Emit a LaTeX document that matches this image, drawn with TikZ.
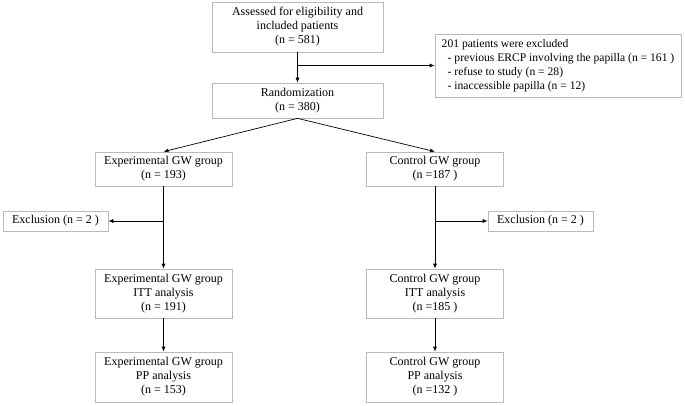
\documentclass[tikz,border=0pt]{standalone}
\usepackage{fontspec}
\setmainfont{Liberation Serif}
\usetikzlibrary{arrows.meta,
                calc,
                positioning}
\tikzset{
        base/.style={draw=gray!55, line width=0.7pt, align=center, inner sep=0pt,
                     font=\fontsize{12}{14}\selectfont},
        wide/.style={base, minimum width=171pt},
        grp/.style={base, minimum width=137pt},
        excl/.style={base, minimum width=105pt, minimum height=20pt},
        myarrow/.style={-{Latex[length=5pt, width=4pt]}, line width=0.7pt},
 }
\begin{document}
\begin{tikzpicture}[x=1pt, y=-1pt]
    \useasboundingbox (0,0) rectangle (685,406);

    \node[wide, minimum height=50pt] (assess) at (297.5,27)
         {Assessed for eligibility and\\ included patients\\ (n = 581)};
    \node[base, align=left, font=\fontsize{11.6}{14}\selectfont,
          minimum width=246pt, minimum height=63pt]
         (excluded) at (558,65.5)
         {201 patients were excluded\\
          \hspace*{6pt}- previous ERCP involving the papilla (n = 161 )\\
          \hspace*{6pt}- refuse to study (n = 28)\\
          \hspace*{6pt}- inaccessible papilla (n = 12)};
    \node[wide, minimum height=35pt] (rand) at (297.5,100.5)
         {Randomization\\ (n = 380)};

    \node[grp, minimum height=34pt] (expgrp) at (163.5,169)
         {Experimental GW group\\ (n = 193)};
    \node[grp, minimum height=34pt] (ctrlgrp) at (435,169)
         {Control GW group\\ (n =187 )};
    \node[excl] (exclL) at (55.5,221) {Exclusion (n = 2 )};
    \node[excl] (exclR) at (540.5,221) {Exclusion (n = 2 )};

    \node[grp, minimum height=49pt] (expitt) at (163.5,293.5)
         {Experimental GW group\\ ITT analysis\\ (n = 191)};
    \node[grp, minimum height=49pt] (ctrlitt) at (435,293.5)
         {Control GW group\\ ITT analysis\\ (n =185 )};
    \node[grp, minimum height=50pt] (exppp) at (163.5,377)
         {Experimental GW group\\ PP analysis\\ (n = 153)};
    \node[grp, minimum height=50pt] (ctrlpp) at (435,377)
         {Control GW group\\ PP analysis\\ (n =132 )};

    % arrows
    \draw[myarrow] (assess) -- (rand);
    \coordinate (split) at (assess.south |- excluded.west);
    \draw[myarrow] (split) -- (excluded.west);
    \draw[myarrow] (rand.south) -- (expgrp.north);
    \draw[myarrow] (rand.south) -- (ctrlgrp.north);

    \draw[myarrow] (expgrp) -- (expitt);
    \coordinate (splitL) at (expgrp.south |- exclL.east);
    \draw[myarrow] (splitL) -- (exclL.east);
    \draw[myarrow] (ctrlgrp) -- (ctrlitt);
    \coordinate (splitR) at (ctrlgrp.south |- exclR.west);
    \draw[myarrow] (splitR) -- (exclR.west);

    \draw[myarrow] (expitt) -- (exppp);
    \draw[myarrow] (ctrlitt) -- (ctrlpp);
\end{tikzpicture}
\end{document}
